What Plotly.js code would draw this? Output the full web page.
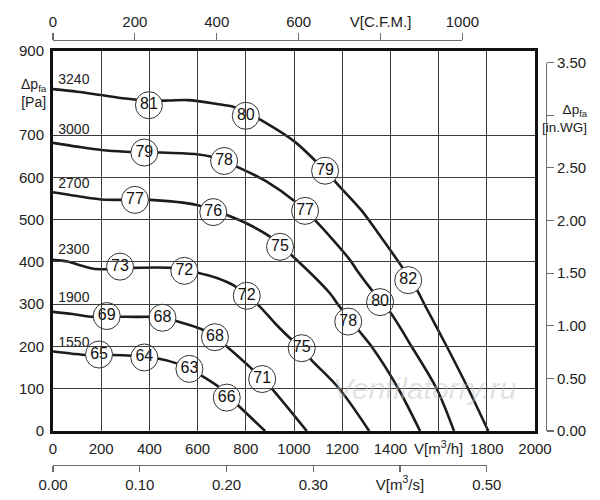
<!DOCTYPE html>
<html>
<head>
<meta charset="utf-8">
<script src="https://cdn.plot.ly/plotly-3.0.1.min.js"></script>
<style>html,body{margin:0;padding:0;background:#fff}#chart{width:600px;height:500px}</style>
</head>
<body>
<div id="chart"></div>
<script>
// ---- Data (V in m3/h, dp in Pa) ----
const speeds = ["3240", "3000", "2700", "2300", "1900", "1550"];
const speedLabelV = [22, 22, 22, 22, 22, 22];
const speedLabelP = [830, 711, 584, 426, 314, 207];

const v3240 = [0, 100, 200, 300, 400, 480, 560, 680, 750, 800, 860, 1000, 1129, 1200, 1280, 1357, 1400, 1447, 1512, 1541, 1634, 1723, 1806];
const p3240 = [809, 803, 795, 787, 782, 782, 783, 774, 767, 755, 737, 686, 616, 572, 522, 462, 428, 389, 332, 300, 200, 100, 0];

const v3000 = [0, 100, 200, 300, 444, 596, 658, 710, 769, 887, 1004, 1046, 1094, 1232, 1260, 1322, 1398, 1488, 1592, 1664];
const p3000 = [682, 673, 665, 661, 659, 655, 649, 638, 624, 590, 543, 521, 495, 405, 381, 334, 282, 200, 100, 0];

const v2700 = [0, 100, 200, 340, 402, 596, 665, 721, 804, 900, 990, 1149, 1184, 1267, 1322, 1433, 1523];
const p2700 = [565, 556, 548, 547, 547, 535, 522, 511, 491, 460, 416, 326, 298, 239, 200, 100, 0];

const v2300 = [0, 60, 120, 167, 230, 333, 492, 545, 596, 680, 748, 852, 921, 983, 1032, 1073, 1188, 1312];
const p2300 = [405, 401, 391, 384, 383, 386, 386, 381, 375, 362, 345, 298, 255, 220, 196, 168, 100, 0];

const v1900 = [0, 80, 167, 223, 360, 445, 506, 624, 672, 721, 831, 870, 907, 1053];
const p1900 = [282, 277, 270, 271, 270, 270, 261, 239, 222, 200, 144, 123, 101, 0];

const v1550 = [0, 80, 140, 243, 327, 430, 513, 566, 610, 686, 762, 880];
const p1550 = [188, 183, 180, 180, 178, 172, 160, 147, 133, 105, 64, 0];

// efficiency / noise bubble labels
const bubbleV = [398, 800, 1129, 1474, 379, 710, 1046, 1357, 340, 665, 942, 1225, 278, 545, 804, 1032, 223, 454, 672, 868, 191, 379, 566, 721];
const bubbleP = [771, 746, 616, 357, 659, 639, 521, 305, 547, 518, 436, 259, 389, 379, 320, 196, 272, 268, 222, 123, 181, 174, 147, 79];
const bubbleText = ["81", "80", "79", "82", "79", "78", "77", "80", "77", "76", "75", "78", "73", "72", "72", "75", "69", "68", "68", "71", "65", "64", "63", "66"];

// axis ticks
const flowTicks = [0, 200, 400, 600, 800, 1000, 1200, 1400, 1600, 1800, 2000];
const flowTickText = ["0", "200", "400", "600", "800", "1000", "1200", "1400", "V[m<sup>3</sup>/h]", "1800", "2000"];
const paTicks = [0, 100, 200, 300, 400, 500, 600, 700, 900];
const paTickText = ["0", "100", "200", "300", "400", "500", "600", "700", "900"];
const paTitle = "Δp<sub>fa</sub><br>[Pa]";
const cfmTicks = [0, 200, 400, 600, 800, 1000];
const cfmTickText = ["0", "200", "400", "600", "V[C.F.M.]", "1000"];
const inwgTicks = [0, 0.5, 1, 1.5, 2, 2.5, 3, 3.5];
const inwgTickText = ["0.00", "0.50", "1.00", "1.50", "2.00", "2.50", " ", "3.50"];
const inwgTitle = "Δp<sub>fa</sub><br>[in.WG]";
const m3sTicks = [0, 0.1, 0.2, 0.3, 0.4, 0.5];
const m3sTickText = ["0.00", "0.10", "0.20", "0.30", "V[m<sup>3</sup>/s]", "0.50"];

const CFM_TO_M3H = 1.699;
const INWG_TO_PA = 249.09;
const M3S_TO_M3H = 3600;

// ---- Layout geometry ----
const W = 600, H = 500;
const X0 = 53, X1 = 535, YT = 50.7, YB = 431;
const xRange = [0, 2000], yRange = [0, 900];
const pxPerV = (X1 - X0) / (xRange[1] - xRange[0]);
const pxPerP = (YB - YT) / (yRange[1] - yRange[0]);

const FAM = 'Liberation Sans, Arial, sans-serif';
const lineColor = '#1c1c1c';
const curves = [[v3240, p3240], [v3000, p3000], [v2700, p2700], [v2300, p2300], [v1900, p1900], [v1550, p1550]];
const traces = curves.map(c => ({
  x: c[0], y: c[1], type: 'scatter', mode: 'lines',
  line: {color: lineColor, width: 2.6, shape: 'spline', smoothing: 0.9},
  hoverinfo: 'skip', showlegend: false
}));

traces.push({
  x: speedLabelV, y: speedLabelP, text: speeds, type: 'scatter', mode: 'text',
  textposition: 'middle right', textfont: {family: FAM, size: 14, color: '#222'},
  hoverinfo: 'skip', showlegend: false
});

traces.push({
  x: bubbleV, y: bubbleP, text: bubbleText, type: 'scatter', mode: 'markers+text',
  marker: {symbol: 'circle', size: 27, color: '#fff', line: {color: '#333', width: 1}},
  textposition: 'middle center', textfont: {family: FAM, size: 16, color: '#111'},
  hoverinfo: 'skip', showlegend: false, cliponaxis: false
});

// dummy traces so the secondary axes are drawn
traces.push({x: [null], y: [null], xaxis: 'x2', yaxis: 'y', type: 'scatter', mode: 'markers', showlegend: false, hoverinfo: 'skip'});
traces.push({x: [null], y: [null], xaxis: 'x', yaxis: 'y2', type: 'scatter', mode: 'markers', showlegend: false, hoverinfo: 'skip'});
traces.push({x: [null], y: [null], xaxis: 'x3', yaxis: 'y', type: 'scatter', mode: 'markers', showlegend: false, hoverinfo: 'skip'});

const font = {family: FAM, size: 15, color: '#222'};
const secColor = '#6e6e6e';

const xDom = [X0 / W, X1 / W];
const yDom = [1 - YB / H, 1 - YT / H];
const cfmEnd = X0 + 1000 * CFM_TO_M3H * pxPerV;
const inwgTop = YB - 3.5 * INWG_TO_PA * pxPerP;
const m3sEnd = X0 + 0.5 * M3S_TO_M3H * pxPerV;

const layout = {
  width: W, height: H, autosize: false,
  margin: {l: 0, r: 0, t: 0, b: 0, pad: 0},
  paper_bgcolor: '#fff', plot_bgcolor: 'rgba(0,0,0,0)',
  font: font, showlegend: false, hovermode: false,
  xaxis: {
    domain: xDom, range: xRange, tickvals: flowTicks, ticktext: flowTickText,
    showgrid: true, gridcolor: '#3c3c3c', gridwidth: 1, zeroline: false,
    showline: true, linecolor: '#111', linewidth: 3, mirror: true,
    ticks: '', tickfont: font, ticklabelstandoff: 2
  },
  yaxis: {
    domain: yDom, range: yRange, tickvals: paTicks, ticktext: paTickText,
    showgrid: true, gridcolor: '#3c3c3c', gridwidth: 1, zeroline: false,
    showline: true, linecolor: '#111', linewidth: 3, mirror: true,
    ticks: '', tickfont: font, ticklabelstandoff: 3
  },
  xaxis2: {
    domain: [X0 / W, cfmEnd / W], range: [0, 1000], anchor: 'free', position: 1 - 40 / H, side: 'top',
    tickvals: cfmTicks, ticktext: cfmTickText, showgrid: false, zeroline: false,
    showline: true, linecolor: secColor, linewidth: 1.2, ticks: 'outside', ticklen: 7, tickwidth: 1.2, tickcolor: secColor,
    tickfont: font
  },
  yaxis2: {
    domain: [1 - YB / H, 1 - inwgTop / H], range: [0, 3.5], anchor: 'free', position: 545.7 / W, side: 'right',
    tickvals: inwgTicks, ticktext: inwgTickText, showgrid: false, zeroline: false,
    showline: true, linecolor: secColor, linewidth: 1.2, ticks: 'outside', ticklen: 7, tickwidth: 1.2, tickcolor: secColor,
    tickfont: font
  },
  xaxis3: {
    domain: [X0 / W, m3sEnd / W], range: [0, 0.5], anchor: 'free', position: 1 - 464.5 / H, side: 'bottom',
    tickvals: m3sTicks, ticktext: m3sTickText, showgrid: false, zeroline: false,
    showline: true, linecolor: secColor, linewidth: 1.2, ticks: 'outside', ticklen: 6, tickwidth: 1.2, tickcolor: secColor,
    tickfont: font
  },
  annotations: [
    {
      text: paTitle, xref: 'paper', yref: 'y', x: 34 / W, y: 800, xanchor: 'center', yanchor: 'middle',
      align: 'center', showarrow: false, font: {family: FAM, size: 14, color: '#222'}
    },
    {
      text: inwgTitle, xref: 'paper', yref: 'y2', x: 590 / W, y: 2.97, xanchor: 'right', yanchor: 'middle',
      align: 'right', showarrow: false, font: {family: FAM, size: 13.5, color: '#222'}
    },
    {
      text: '<i>Ventilatorry.ru</i>', xref: 'paper', yref: 'paper',
      x: 425 / W, y: 1 - 388 / H, xanchor: 'center', yanchor: 'middle', showarrow: false,
      font: {family: FAM, size: 30, color: 'rgba(190,190,190,0.45)'}
    }
  ]
};

Plotly.newPlot('chart', traces, layout, {staticPlot: true, displayModeBar: false});
</script>
</body>
</html>
